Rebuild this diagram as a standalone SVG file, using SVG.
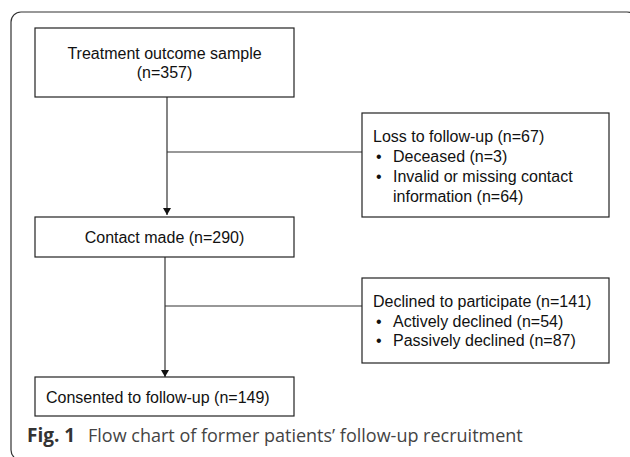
<svg xmlns="http://www.w3.org/2000/svg" width="630" height="457" viewBox="0 0 630 457">
<defs>
<style>
.box{fill:#fff;stroke:#222;stroke-width:1.2}
.t{font-family:"Liberation Sans",Arial,sans-serif;font-size:16px;fill:#111}
.c{text-anchor:middle}
.ln{stroke:#333;stroke-width:1.2;fill:none}
.cap{font-family:"Open Sans","Noto Sans",sans-serif;font-size:18px;fill:#444}
</style>
<marker id="ah" markerWidth="8" markerHeight="8" refX="7" refY="4" orient="auto" markerUnits="userSpaceOnUse">
<path d="M0,0 L7,4 L0,8 Z" fill="#111"/>
</marker>
</defs>
<rect x="11" y="12" width="626" height="448" rx="10" fill="#fff" stroke="#333" stroke-width="1.2"/>
<g id="connectors">
<path class="ln" d="M167,97 V215" marker-end="url(#ah)"/>
<path class="ln" d="M167,152 H362"/>
<path class="ln" d="M165,257 V377" marker-end="url(#ah)"/>
<path class="ln" d="M165,306 H362"/>
</g>
<g id="n1">
<rect class="box" x="35" y="28" width="259" height="69"/>
<text class="t c" x="164.5" y="59">Treatment outcome sample</text>
<text class="t c" x="164.5" y="78">(n=357)</text>
</g>
<g id="n2">
<rect class="box" x="362" y="113" width="247" height="104"/>
<text class="t" x="373" y="142">Loss to follow-up (n=67)</text>
<text class="t" x="376" y="162">•</text>
<text class="t" x="393" y="162">Deceased (n=3)</text>
<text class="t" x="376" y="182">•</text>
<text class="t" x="393" y="182">Invalid or missing contact</text>
<text class="t" x="393" y="202">information (n=64)</text>
</g>
<g id="n3">
<rect class="box" x="35" y="217" width="259" height="40"/>
<text class="t c" x="164.5" y="243">Contact made (n=290)</text>
</g>
<g id="n4">
<rect class="box" x="362" y="278" width="247" height="85"/>
<text class="t" x="373" y="307">Declined to participate (n=141)</text>
<text class="t" x="376" y="327">•</text>
<text class="t" x="393" y="327">Actively declined (n=54)</text>
<text class="t" x="376" y="346">•</text>
<text class="t" x="393" y="346">Passively declined (n=87)</text>
</g>
<g id="n5">
<rect class="box" x="35" y="377" width="259" height="39"/>
<text class="t" x="46" y="403">Consented to follow-up (n=149)</text>
</g>
<g id="caption">
<text class="cap" x="27" y="442"><tspan font-weight="bold" font-size="19" fill="#333">Fig. 1</tspan><tspan x="88">Flow chart of former patients’ follow-up recruitment</tspan></text>
</g>
</svg>
